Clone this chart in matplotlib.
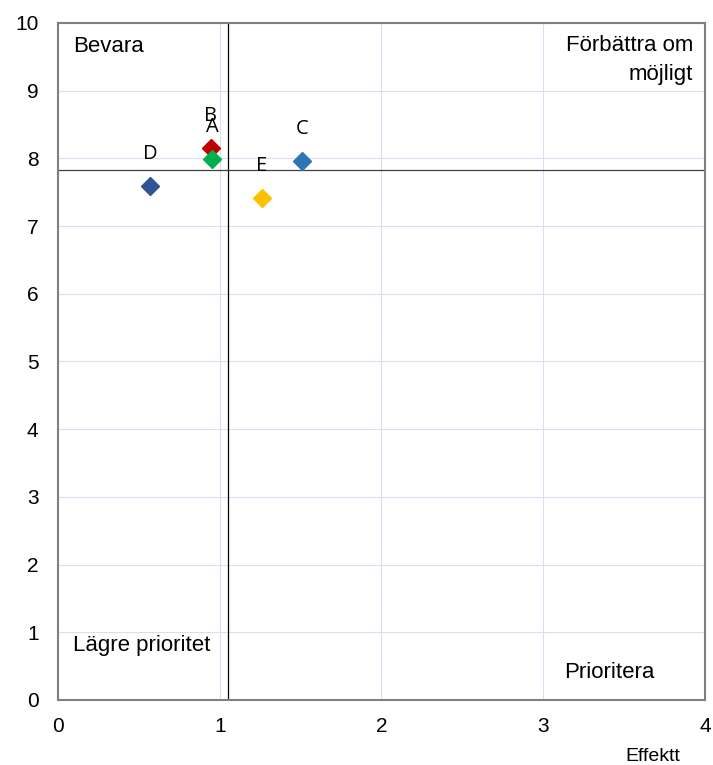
import matplotlib
matplotlib.use("Agg")
import matplotlib.pyplot as plt

plt.rcParams['font.family'] = ['Liberation Sans', 'DejaVu Sans']

# data
namn = ["D", "B", "A", "C", "E"]
effekt = [0.57, 0.946, 0.952, 1.51, 1.26]
varde = [7.59, 8.15, 7.99, 7.96, 7.41]
farger = ["#2F5597", "#C00000", "#00B050", "#2E75B6", "#FFC000"]

medel_x = 1.05
medel_y = 7.83

fig = plt.figure(figsize=(7.13, 7.65), dpi=100)
ax = fig.add_axes([0.0813, 0.085, 0.9075, 0.885])

ax.set_xlim(0, 4)
ax.set_ylim(0, 10)
ax.set_xticks(range(0, 5))
ax.set_yticks(range(0, 11))
ax.grid(True, color="#DCDCF5", linewidth=0.8)
ax.set_axisbelow(True)
ax.tick_params(length=0, labelsize=15)
ax.tick_params(axis="y", pad=14)
ax.tick_params(axis="x", pad=12)

for s in ax.spines.values():
    s.set_color("#808080")
    s.set_linewidth(1.5)

ax.axvline(medel_x, color="black", linewidth=0.9)
ax.axhline(medel_y, color="#404040", linewidth=0.9)

for n, x, y, f in zip(namn, effekt, varde, farger):
    ax.plot(x, y, marker="D", color=f, markersize=9.5, linestyle="none")
    ax.annotate(n, (x, y), xytext=(0, 23), textcoords="offset points",
                ha="center", va="center", fontsize=14.5, family=["Open Sans", "DejaVu Sans"])

ax.text(0.093, 9.645, "Bevara", fontsize=16, va="center", ha="left")
ax.text(3.926, 9.82, "Förbättra om\nmöjligt", fontsize=16, va="top", ha="right",
        multialignment="right", linespacing=1.5)
ax.text(0.093, 0.81, "Lägre prioritet", fontsize=16, va="center", ha="left")
ax.text(3.41, 0.41, "Prioritera", fontsize=16, va="center", ha="center")

fig.text(0.915, 0.0, "Effektt", fontsize=14, ha="center", va="bottom")

fig.savefig("out.png", dpi=100)
